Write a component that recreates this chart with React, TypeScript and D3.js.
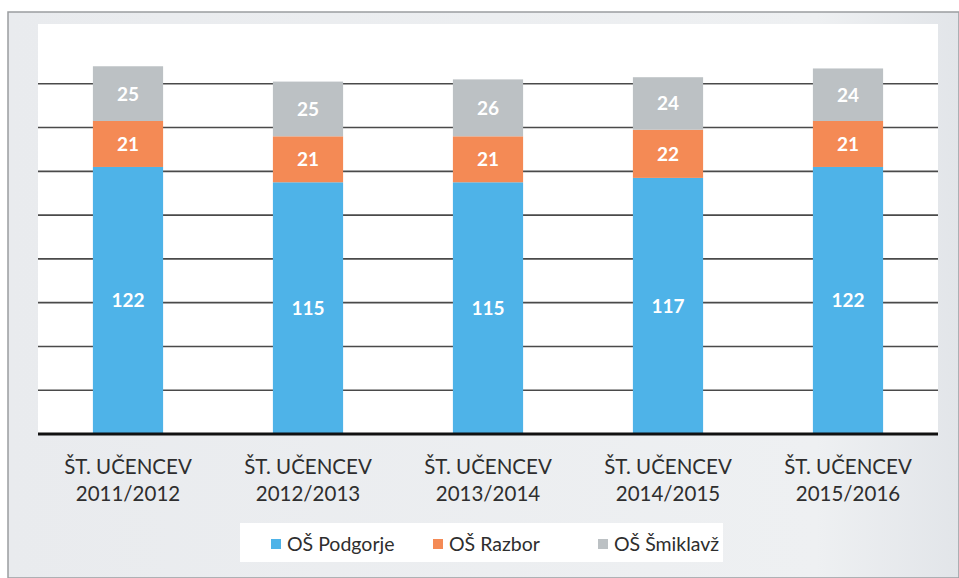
import React from "react";
import * as d3 from "d3";

const categories = [
  "ŠT. UČENCEV 2011/2012",
  "ŠT. UČENCEV 2012/2013",
  "ŠT. UČENCEV 2013/2014",
  "ŠT. UČENCEV 2014/2015",
  "ŠT. UČENCEV 2015/2016",
];
const seriesNames = ["OŠ Podgorje", "OŠ Razbor", "OŠ Šmiklavž"];
const podgorje = [122, 115, 115, 117, 122];
const razbor = [21, 21, 21, 22, 21];
const smiklavz = [25, 25, 26, 24, 24];
const gridTicks = [20, 40, 60, 80, 100, 120, 140, 160];
const colors = ["#4eb3e8", "#f48a55", "#bcc1c4"];

const W = 959;
const H = 578;

export default function App() {
  const x = d3
    .scaleBand<string>()
    .domain(categories)
    .range([38, 938])
    .paddingInner(0.61)
    .paddingOuter(0.305);
  const y = d3.scaleLinear().domain([0, 180]).range([434, 40]);
  const rows = categories.map((c, i) => ({
    cat: c,
    podgorje: podgorje[i],
    razbor: razbor[i],
    smiklavz: smiklavz[i],
  }));
  const stack = d3.stack<any>().keys(["podgorje", "razbor", "smiklavz"]);
  const layers = stack(rows);
  const font = "Lato, 'Open Sans', 'Liberation Sans', sans-serif";

  const legendX = [271, 433, 598];

  return (
    <svg
      width={W}
      height={H}
      style={{ position: "absolute", left: 0, top: 0, display: "block" }}
      fontFamily={font}
    >
      <defs>
        <linearGradient id="bg" x1="0" x2="1" y1="0" y2="0">
          <stop offset="0" stopColor="#e9ebee" />
          <stop offset="0.85" stopColor="#eef0f2" />
          <stop offset="1" stopColor="#e2e5e9" />
        </linearGradient>
      </defs>
      <rect x={0} y={0} width={W} height={H} fill="#ffffff" />
      <rect x={8} y={12} width={W - 8} height={H - 12} fill="url(#bg)" stroke="#9a9da0" strokeWidth={1.5} />
      <rect x={38} y={24} width={900} height={410} fill="#ffffff" />
      {gridTicks.map((t) => (
        <line key={t} x1={38} x2={938} y1={y(t)} y2={y(t)} stroke="#4a4a4a" strokeWidth={1.6} />
      ))}
      {layers.map((layer, li) =>
        layer.map((d, i) => (
          <rect
            key={li + "-" + i}
            x={x(categories[i])!}
            y={y(d[1])}
            width={x.bandwidth()}
            height={y(d[0]) - y(d[1])}
            fill={colors[li]}
          />
        ))
      )}
      {layers.map((layer, li) =>
        layer.map((d, i) => (
          <text
            key={"t" + li + "-" + i}
            x={x(categories[i])! + x.bandwidth() / 2}
            y={(y(d[0]) + y(d[1])) / 2 + 7}
            textAnchor="middle"
            fill="#ffffff"
            fontSize={19}
            fontWeight={700}
          >
            {d[1] - d[0]}
          </text>
        ))
      )}
      <line x1={38} x2={938} y1={y(0)} y2={y(0)} stroke="#111111" strokeWidth={3} />
      {categories.map((c) => {
        const parts = c.split(" ");
        const l1 = parts.slice(0, 2).join(" ");
        const l2 = parts[2];
        const cx = x(c)! + x.bandwidth() / 2;
        return (
          <g key={c} fill="#2e2e2e" fontSize={20.5}>
            <text x={cx} y={474} textAnchor="middle">{l1}</text>
            <text x={cx} y={501} textAnchor="middle">{l2}</text>
          </g>
        );
      })}
      <rect x={240} y={523} width={483} height={39} fill="#ffffff" />
      {seriesNames.map((s, i) => (
        <g key={s}>
          <rect x={legendX[i]} y={539} width={10} height={10} fill={colors[i]} />
          <text x={legendX[i] + 16} y={551} fontSize={19.5} fill="#2e2e2e">{s}</text>
        </g>
      ))}
    </svg>
  );
}
